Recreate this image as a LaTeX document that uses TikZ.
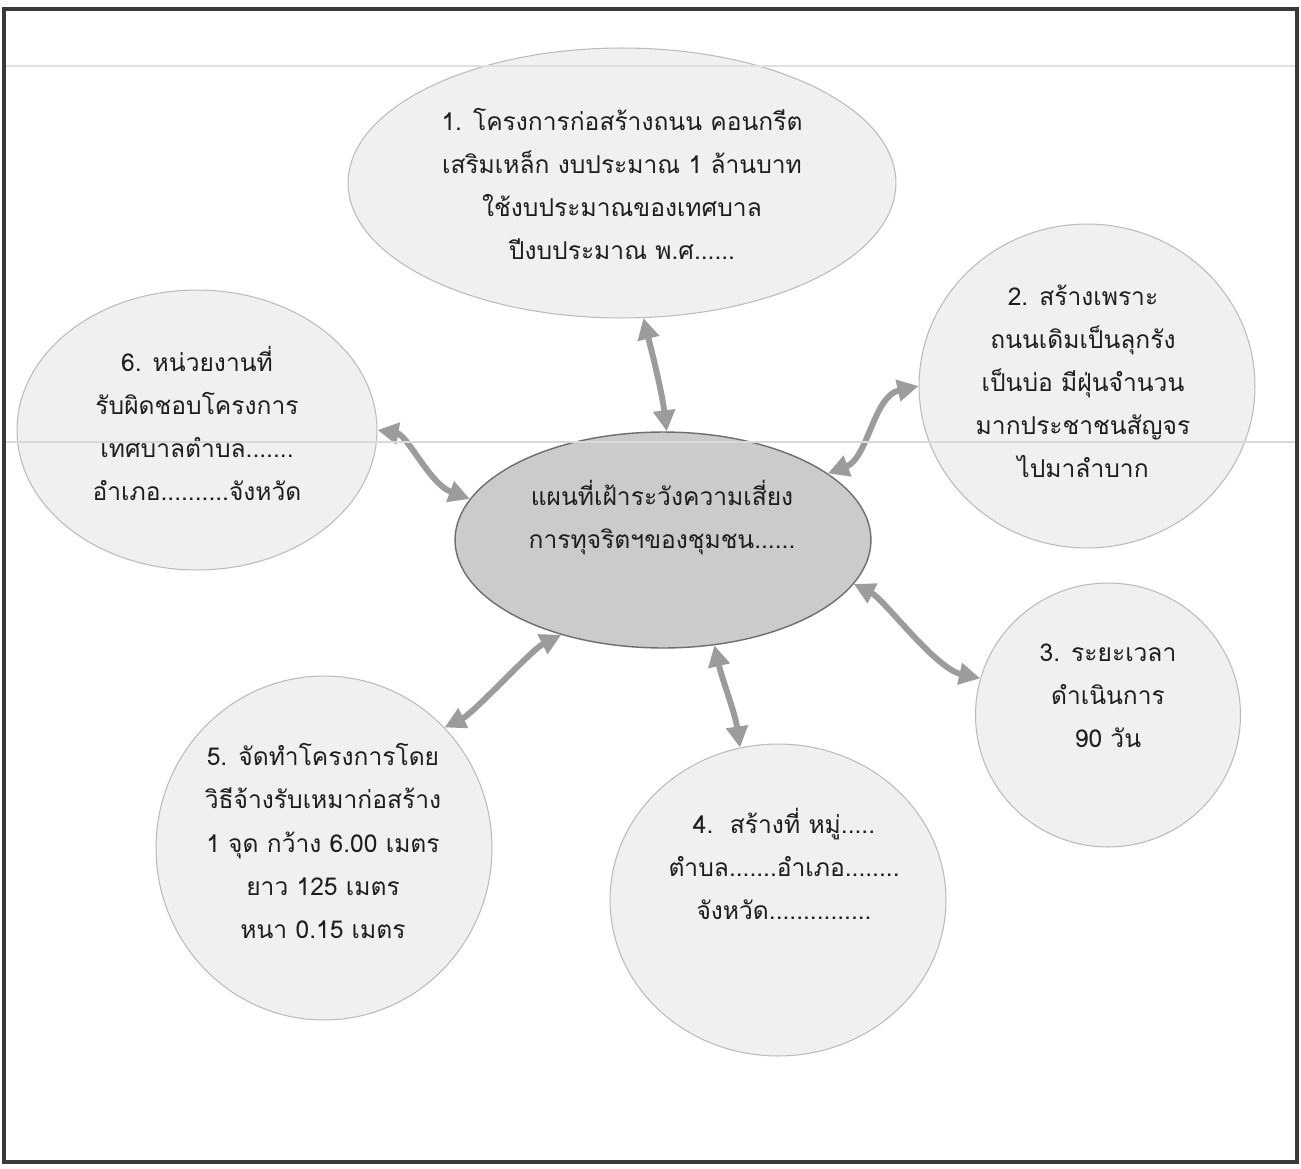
\documentclass[tikz,border=0pt]{standalone}
\usepackage{fontspec}
\newfontfamily\thaifont[Script=Thai]{Loma}
\usetikzlibrary{shapes.geometric,arrows.meta}
\definecolor{bubfill}{HTML}{F0F0F0}
\definecolor{bubline}{HTML}{BBBBBB}
\definecolor{cenfill}{HTML}{CBCBCB}
\definecolor{cenline}{HTML}{6E6E6E}
\definecolor{arrcol}{HTML}{9C9C9C}
\definecolor{framecol}{HTML}{3A3A3A}
\definecolor{txtcol}{HTML}{1E1E1E}
\begin{document}
\begin{tikzpicture}[x=0.02cm,y=-0.02cm,
  bub/.style={ellipse,draw=bubline,fill=bubfill,line width=0.6pt,inner sep=0pt},
  cen/.style={ellipse,draw=cenline,fill=cenfill,line width=0.8pt,inner sep=0pt},
  txt/.style={align=center,text=txtcol,inner sep=0pt,font=\thaifont\fontsize{14}{24.5}\selectfont},
  conn/.style={draw=arrcol,line width=3.4pt,
    {Triangle[length=12pt,width=12pt]}-{Triangle[length=12pt,width=12pt]}}]
\useasboundingbox (0,0) rectangle (1301,1169);
\fill[white] (0,0) rectangle (1301,1169);
\draw[framecol,line width=2.3pt] (4,9) rectangle (1297,1162);
% bubbles
\node[bub,minimum width=10.96cm,minimum height=5.4cm] (n1) at (622,183) {};
\node[bub,minimum width=6.72cm,minimum height=6.48cm] (n2) at (1087,386) {};
\node[bub,minimum width=5.3cm,minimum height=5.28cm] (n3) at (1108,715) {};
\node[bub,minimum width=6.72cm,minimum height=6.24cm] (n4) at (778,900) {};
\node[bub,minimum width=6.72cm,minimum height=6.88cm] (n5) at (324,848) {};
\node[bub,minimum width=7.2cm,minimum height=5.6cm] (n6) at (197,430) {};
\node[cen,minimum width=8.32cm,minimum height=4.32cm] (c) at (663,540) {};
% texts
\node[txt] (t1) at (622,184) {1. โครงการก่อสร้างถนน คอนกรีต\\เสริมเหล็ก งบประมาณ 1 ล้านบาท\\ใช้งบประมาณของเทศบาล\\ปีงบประมาณ พ.ศ......};
\node[txt] (t2) at (1083,381) {2. สร้างเพราะ\\ถนนเดิมเป็นลุกรัง\\เป็นบ่อ มีฝุ่นจำนวน\\มากประชาชนสัญจร\\ไปมาลำบาก};
\node[txt] (t3) at (1108,696) {3. ระยะเวลา\\ดำเนินการ\\90 วัน};
\node[txt] (t4) at (784,864) {4.\ \ สร้างที่ หมู่.....\\ตำบล.......อำเภอ........\\จังหวัด...............};
\node[txt] (t5) at (323,841) {5. จัดทำโครงการโดย\\วิธีจ้างรับเหมาก่อสร้าง\\1 จุด กว้าง 6.00 เมตร\\ยาว 125 เมตร\\หนา 0.15 เมตร};
\node[txt] (t6) at (197,423) {6. หน่วยงานที่\\รับผิดชอบโครงการ\\เทศบาลตำบล.......\\อำเภอ..........จังหวัด};
\node[txt] (tc) at (662,518) {แผนที่เฝ้าระวังความเสี่ยง\\การทุจริตฯของชุมชน......};
% connectors
\draw[conn] (n1.-81) .. controls +(10,40) and +(-5,-40) .. (c.88);
\draw[conn] (c.22) .. controls +(40,-15) and +(-45,10) .. (n2.180);
\draw[conn] (c.-13) .. controls +(30,15) and +(-45,-10) .. (n3.164);
\draw[conn] (c.-64) .. controls +(8,35) and +(-5,-35) .. (n4.104);
\draw[conn] (c.-137) .. controls +(-30,15) and +(30,-15) .. (n5.45);
\draw[conn] (n6.0) .. controls +(30,5) and +(-40,-15) .. (c.168);
% faint fold lines of the scan
\draw[black!12,line width=1pt] (6,66) -- (1295,66);
\draw[black!15,line width=1pt] (6,442) -- (1295,442);
\end{tikzpicture}
\end{document}
